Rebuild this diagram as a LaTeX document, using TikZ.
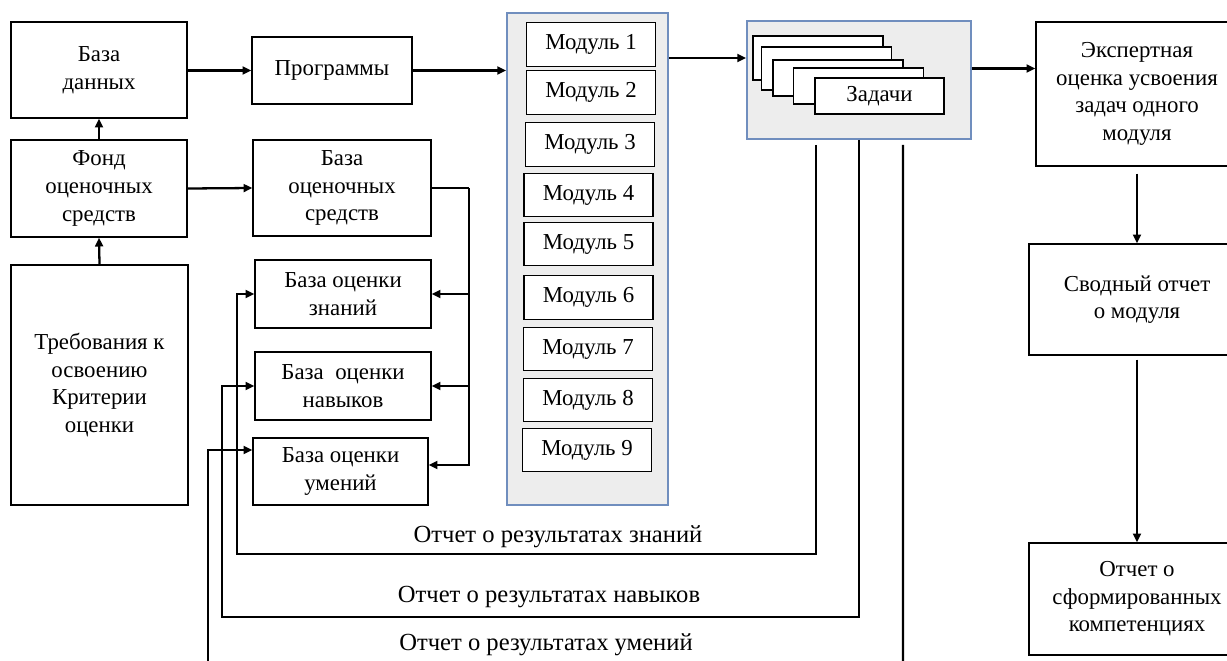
\documentclass[tikz,border=0pt]{standalone}
\usepackage{fontspec}
\setmainfont{Liberation Serif}
\usetikzlibrary{arrows.meta}
\definecolor{panelfill}{RGB}{237,237,237}
\definecolor{panelline}{RGB}{112,142,190}
\tikzset{
  box/.style={draw, line width=0.8pt, fill=white, align=center, inner sep=1pt},
  panel/.style={draw=panelline, line width=1pt, fill=panelfill},
  wire/.style={line width=1.3pt},
  note/.style={font=\fontsize{14pt}{16pt}\selectfont},
}
\begin{document}
\begin{tikzpicture}[x=0.02cm, y=-0.02cm, >={Triangle[length=5pt,width=4.5pt]},
    font=\fontsize{13pt}{15.7pt}\selectfont]
    \useasboundingbox (0,0) rectangle (1227,660);
    \clip (0,0) rectangle (1227,660);
    % левый столбец
    \node[box, minimum width=3.52cm, minimum height=1.92cm] (db) at (99,70) {База\\данных};
    \node[box, minimum width=3.52cm, minimum height=1.94cm] (fond) at (99,188.5) {Фонд\\оценочных\\средств};
    \node[box, minimum width=3.54cm, minimum height=4.8cm] (treb) at (99.5,385) {Требования к\\освоению\\Критерии\\оценки};
    % базы
    \node[box, minimum width=3.2cm, minimum height=1.34cm] (prog) at (332,70.5) {Программы};
    \node[box, minimum width=3.56cm, minimum height=1.92cm] (bos) at (342,188) {База\\оценочных\\средств};
    \node[box, minimum width=3.52cm, minimum height=1.36cm] (kn) at (343,294) {База оценки\\знаний};
    \node[box, minimum width=3.52cm, minimum height=1.36cm] (nav) at (343,386) {База~~оценки\\навыков};
    \node[box, minimum width=3.5cm, minimum height=1.34cm] (umen) at (340.5,471.5) {База оценки\\умений};
    % модули
    \node[panel, minimum width=3.22cm, minimum height=9.84cm] (modc) at (587.5,259) {};
    \foreach \i/\mx/\my in {1/591/44.5, 2/591/92.5, 3/590/144.5, 4/588.5/195, 5/588.5/244,
        6/588.5/297.5, 7/588/349, 8/588/400, 9/587/450}
      \node[box, minimum width=2.58cm, minimum height=0.87cm] (m\i) at (\mx,\my) {Модуль \i};
    % задачи
    \node[panel, minimum width=4.48cm, minimum height=2.36cm] (zad) at (859,80) {};
    \foreach \i/\cx/\cy/\ch in {1/818/58/0.88, 2/826.5/68.5/0.86, 3/838/78/0.72, 4/858.5/86/0.72}
      \node[box, minimum width=2.6cm, minimum height=\ch cm] (c\i) at (\cx,\cy) {};
    \node[box, minimum width=2.58cm, minimum height=0.72cm] (c5) at (879.5,96) {Задачи};
    % правый столбец
    \node[box, minimum width=4.04cm, minimum height=2.88cm] (exp) at (1137,94) {Экспертная\\оценка усвоения\\задач одного\\модуля};
    \node[box, minimum width=4.32cm, minimum height=2.22cm] (sv) at (1137,299.5) {Сводный отчет\\о модуля};
    \node[box, minimum width=4.32cm, minimum height=2.24cm] (otch) at (1137,599) {Отчет о\\сформированных\\компетенциях};
    % подписи отчетов
    \node[note] (lkn) at (558,537) {Отчет о результатах знаний};
    \node[note] (lnav) at (549,597) {Отчет о результатах навыков};
    \node[note] (lum) at (546,645) {Отчет о результатах умений};
    % точки изломов
    \coordinate (bus) at (469,188);
    \coordinate (kb) at (237,554);
    \coordinate (nb) at (222,617);
    \coordinate (ub) at (208,670);
    \coordinate (ue) at (903,670);
    % стрелки
    \draw[wire,->] (db.east |- prog.west) -- (prog.west);
    \draw[wire,->] (fond.north) -- (db.south);
    \draw[wire,->] (treb.north) -- (fond.south);
    \draw[wire,->] (fond.east) -- (bos.west);
    \draw[wire,->] (prog.east) -- (prog.east -| modc.west);
    \draw[wire,->] (modc.east |- c1) -- (zad.west |- c1);
    \draw[wire,->] (zad.east |- c2) -- (exp.west |- c2);
    \draw[wire,->,shorten <=0.14cm] (exp.south) -- (sv.north);
    \draw[wire,->,shorten <=0.08cm] (sv.south) -- (otch.north);
    \draw[wire] (bos.east) -- (bus);
    \draw[wire,->] (bus) |- ([yshift=0.13cm]umen.east);
    \draw[wire,->] (bus |- kn.east) -- (kn.east);
    \draw[wire,->] (bus |- nav.east) -- (nav.east);
    \draw[wire,->] ([xshift=-0.86cm,yshift=-0.1cm]zad.south) |- (kb) |- (kn.west);
    \draw[wire,->] (zad.south) |- (nb) |- (nav.west);
    \draw[wire] ([xshift=0.88cm,yshift=-0.1cm]zad.south) -- (ue);
    \draw[wire,->] (ub) |- ([yshift=0.43cm]umen.west);
\end{tikzpicture}
\end{document}
